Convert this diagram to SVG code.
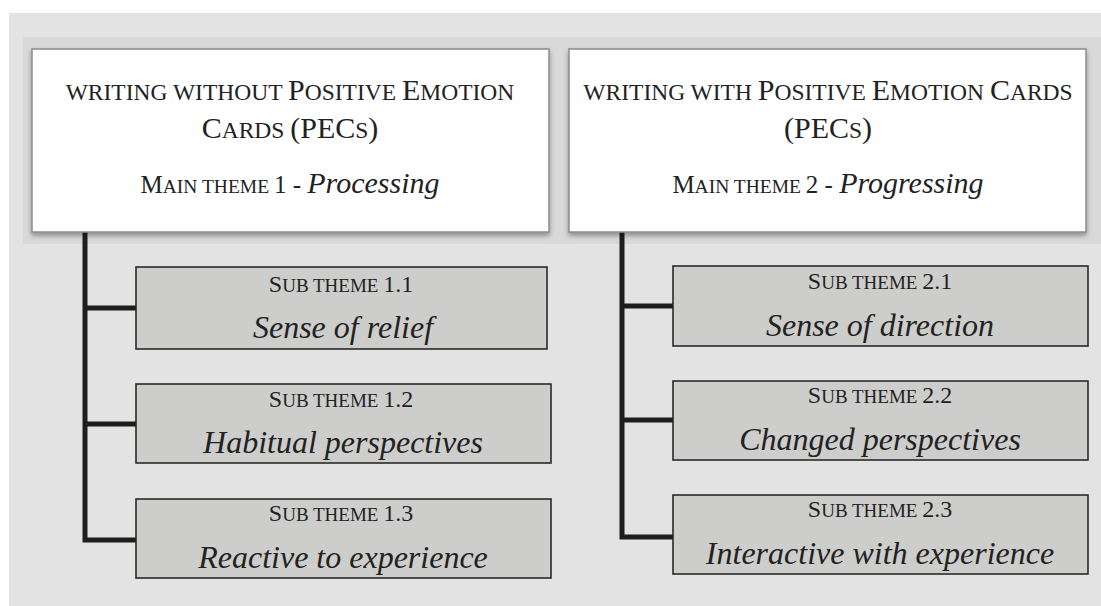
<svg xmlns="http://www.w3.org/2000/svg" width="1101" height="606" viewBox="0 0 1101 606">
<style>
text{font-family:"Liberation Serif","Times New Roman",serif;fill:#222;text-anchor:middle}
.b{font-size:30px}.s{font-size:23.5px}
.b3{font-size:25px}.s3{font-size:19.5px}.i3{font-size:30px;font-style:italic}
.sb{font-size:24px}.ss{font-size:19px}
.it{font-size:32px;font-style:italic}
.main{fill:#fff;stroke:#8a8a8a;stroke-width:1.5}
.sub{fill:#cdcdcb;stroke:#2a2a2a;stroke-width:1.6}
.con{fill:none;stroke:#1e1e1e;stroke-width:5}
</style>
<defs>
<filter id="sh" x="-5%" y="-10%" width="110%" height="125%">
<feDropShadow dx="0" dy="3" stdDeviation="2.5" flood-color="#000" flood-opacity="0.35"/>
</filter>
</defs>
<rect x="0" y="0" width="1101" height="606" fill="#fff"/>
<rect x="9" y="13" width="1092" height="593" fill="#e3e3e3"/>
<rect x="23" y="37" width="1078" height="207" fill="#d9d9d9"/>
<g id="connectors">
<path class="con" d="M85 232 V540 H136 M85 308 H136 M85 424 H136"/>
<path class="con" d="M622 232 V537 H673 M622 306 H673 M622 420 H673"/>
</g>
<g id="main1">
<rect class="main" x="32" y="49" width="517" height="183" filter="url(#sh)"/>
<text x="290" y="100"><tspan class="s">WRITING WITHOUT </tspan><tspan class="b">P</tspan><tspan class="s">OSITIVE </tspan><tspan class="b">E</tspan><tspan class="s">MOTION</tspan></text>
<text x="290" y="138"><tspan class="b">C</tspan><tspan class="s">ARDS </tspan><tspan class="b">(PEC</tspan><tspan class="s">S</tspan><tspan class="b">)</tspan></text>
<text x="290" y="193"><tspan class="b3">M</tspan><tspan class="s3">AIN THEME </tspan><tspan class="b3">1 - </tspan><tspan class="i3">Processing</tspan></text>
</g>
<g id="main2">
<rect class="main" x="569" y="49" width="517" height="183" filter="url(#sh)"/>
<text x="828" y="100"><tspan class="s">WRITING WITH </tspan><tspan class="b">P</tspan><tspan class="s">OSITIVE </tspan><tspan class="b">E</tspan><tspan class="s">MOTION </tspan><tspan class="b">C</tspan><tspan class="s">ARDS</tspan></text>
<text x="828" y="138"><tspan class="b">(PEC</tspan><tspan class="s">S</tspan><tspan class="b">)</tspan></text>
<text x="828" y="193"><tspan class="b3">M</tspan><tspan class="s3">AIN THEME </tspan><tspan class="b3">2 - </tspan><tspan class="i3">Progressing</tspan></text>
</g>
<g id="sub11">
<rect class="sub" x="136" y="267" width="411" height="82"/>
<text x="341" y="292"><tspan class="sb">S</tspan><tspan class="ss">UB THEME </tspan><tspan class="sb">1.1</tspan></text>
<text class="it" x="343" y="338">Sense of relief</text>
</g>
<g id="sub12">
<rect class="sub" x="136" y="384" width="415" height="79"/>
<text x="341" y="407"><tspan class="sb">S</tspan><tspan class="ss">UB THEME </tspan><tspan class="sb">1.2</tspan></text>
<text class="it" x="343" y="453">Habitual perspectives</text>
</g>
<g id="sub13">
<rect class="sub" x="136" y="499" width="415" height="79"/>
<text x="341" y="521"><tspan class="sb">S</tspan><tspan class="ss">UB THEME </tspan><tspan class="sb">1.3</tspan></text>
<text class="it" x="343" y="568">Reactive to experience</text>
</g>
<g id="sub21">
<rect class="sub" x="673" y="266" width="415" height="80"/>
<text x="880" y="289"><tspan class="sb">S</tspan><tspan class="ss">UB THEME </tspan><tspan class="sb">2.1</tspan></text>
<text class="it" x="880" y="336">Sense of direction</text>
</g>
<g id="sub22">
<rect class="sub" x="673" y="381" width="415" height="79"/>
<text x="880" y="403"><tspan class="sb">S</tspan><tspan class="ss">UB THEME </tspan><tspan class="sb">2.2</tspan></text>
<text class="it" x="880" y="450">Changed perspectives</text>
</g>
<g id="sub23">
<rect class="sub" x="673" y="495" width="415" height="79"/>
<text x="880" y="517"><tspan class="sb">S</tspan><tspan class="ss">UB THEME </tspan><tspan class="sb">2.3</tspan></text>
<text class="it" x="880" y="564">Interactive with experience</text>
</g>
</svg>
